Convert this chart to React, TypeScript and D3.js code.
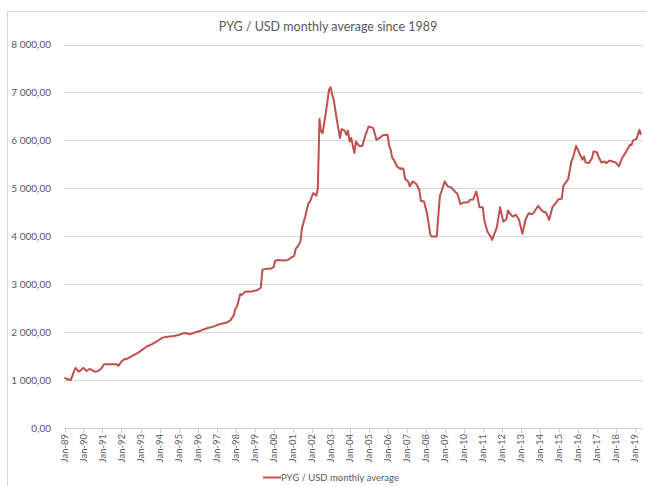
import React, { useEffect, useRef } from "react";
import * as d3 from "d3";

const months = [
  "1989-01", "1989-03", "1989-05", "1989-07", "1989-08", "1989-10", "1989-11",
  "1990-01", "1990-03", "1990-05", "1990-06", "1990-08", "1990-10", "1990-12",
  "1991-02", "1991-10", "1991-11", "1992-01", "1992-03", "1992-04", "1992-07",
  "1992-11", "1993-02", "1993-05", "1993-08", "1993-11", "1994-03", "1994-06",
  "1994-10", "1995-01", "1995-04", "1995-06", "1995-08", "1995-10", "1996-03",
  "1996-07", "1996-11", "1997-03", "1997-08", "1997-10", "1997-12", "1998-01",
  "1998-02", "1998-04", "1998-05", "1998-07", "1998-11", "1999-03", "1999-05",
  "1999-06", "1999-08", "1999-11", "2000-01", "2000-02", "2000-04", "2000-07",
  "2000-10", "2000-12", "2001-02", "2001-03", "2001-05", "2001-06", "2001-07",
  "2001-09", "2001-11", "2001-12", "2002-02", "2002-04", "2002-05", "2002-06",
  "2002-07", "2002-08", "2002-10", "2002-12", "2003-01", "2003-02", "2003-03",
  "2003-05", "2003-07", "2003-08", "2003-10", "2003-11", "2003-12", "2004-01",
  "2004-02", "2004-04", "2004-05", "2004-07", "2004-09", "2004-11", "2005-01",
  "2005-03", "2005-04", "2005-06", "2005-08", "2005-10", "2005-12", "2006-01",
  "2006-02", "2006-03", "2006-04", "2006-05", "2006-07", "2006-09", "2006-10",
  "2006-11", "2006-12", "2007-02", "2007-03", "2007-05", "2007-07", "2007-09",
  "2007-10", "2007-12", "2008-02", "2008-04", "2008-05", "2008-08", "2008-10",
  "2008-11", "2009-01", "2009-03", "2009-05", "2009-07", "2009-09", "2009-11",
  "2010-01", "2010-04", "2010-05", "2010-07", "2010-09", "2010-11", "2011-01",
  "2011-02", "2011-04", "2011-06", "2011-07", "2011-10", "2011-12", "2012-02",
  "2012-04", "2012-05", "2012-07", "2012-08", "2012-10", "2012-12", "2013-02",
  "2013-04", "2013-06", "2013-08", "2013-09", "2013-12", "2014-03", "2014-05",
  "2014-07", "2014-09", "2014-11", "2015-01", "2015-03", "2015-04", "2015-06",
  "2015-07", "2015-09", "2015-10", "2015-12", "2016-02", "2016-04", "2016-05",
  "2016-06", "2016-08", "2016-10", "2016-11", "2017-01", "2017-02", "2017-04",
  "2017-06", "2017-07", "2017-09", "2017-11", "2018-01", "2018-03", "2018-05",
  "2018-06", "2018-08", "2018-10", "2018-11", "2018-12", "2019-02", "2019-03",
  "2019-04", "2019-05",
];

const rates = [
  1050, 1015, 1000, 1175, 1255, 1175, 1195,
  1255, 1190, 1235, 1215, 1175, 1185, 1230,
  1330, 1330, 1295, 1385, 1440, 1435, 1490,
  1560, 1630, 1700, 1745, 1800, 1885, 1905,
  1920, 1940, 1975, 1975, 1955, 1975, 2030,
  2080, 2115, 2165, 2205, 2255, 2360, 2500,
  2545, 2795, 2775, 2840, 2845, 2880, 2930,
  3300, 3320, 3320, 3355, 3490, 3505, 3495,
  3505, 3555, 3590, 3735, 3820, 3900, 4180,
  4410, 4690, 4725, 4900, 4845, 5000, 6445,
  6190, 6150, 6570, 7055, 7105, 6950, 6850,
  6430, 6050, 6235, 6205, 6115, 6200, 5975,
  6050, 5735, 5975, 5885, 5885, 6115, 6290,
  6270, 6255, 6010, 6050, 6105, 6115, 6110,
  5875, 5800, 5630, 5595, 5455, 5405, 5420,
  5400, 5200, 5140, 5040, 5145, 5095, 4970,
  4740, 4725, 4450, 4030, 3995, 3995, 4845,
  4935, 5145, 5040, 5025, 4950, 4885, 4670,
  4705, 4710, 4760, 4765, 4935, 4605, 4605,
  4340, 4100, 3995, 3925, 4190, 4605, 4305,
  4355, 4535, 4445, 4410, 4450, 4340, 4050,
  4340, 4480, 4460, 4480, 4635, 4515, 4495,
  4340, 4605, 4690, 4775, 4780, 5050, 5145,
  5190, 5560, 5630, 5885, 5735, 5595, 5665,
  5540, 5525, 5630, 5770, 5755, 5665, 5540,
  5560, 5525, 5580, 5560, 5540, 5455, 5630,
  5680, 5790, 5910, 5905, 6000, 6025, 6115,
  6220, 6115,
];

const yTicks = [0, 1000, 2000, 3000, 4000, 5000, 6000, 7000, 8000];
const title = "PYG / USD monthly average since 1989";
const seriesName = "PYG / USD monthly average";

const W = 647;
const H = 486;
const font = "Lato, 'Open Sans', sans-serif";
const textColor = "#595959";
const lineColor = "#c0504d";

const App = () => {
  const ref = useRef<SVGSVGElement>(null);

  useEffect(() => {
    const svg = d3.select(ref.current);
    svg.selectAll("*").remove();

    const parse = d3.timeParse("%Y-%m");
    const data = months.map((m, i) => ({ date: parse(m) as Date, value: rates[i] }));

    const x = d3
      .scaleTime()
      .domain([parse("1989-01") as Date, parse("2019-05") as Date])
      .range([64.5, 641]);

    const y = d3.scaleLinear().domain([0, 8000]).range([428, 44.5]);

    // chart frame
    svg
      .append("rect")
      .attr("x", 7.5)
      .attr("y", 11.5)
      .attr("width", W)
      .attr("height", H)
      .attr("fill", "white")
      .attr("stroke", "#d9d9d9");

    svg
      .append("text")
      .attr("x", 328)
      .attr("y", 31)
      .attr("text-anchor", "middle")
      .attr("font-family", font)
      .attr("font-size", 12.5)
      .attr("fill", textColor)
      .text(title);

    // gridlines + y labels
    const fmt = d3
      .formatLocale({ decimal: ",", thousands: " ", grouping: [3], currency: ["", ""] })
      .format(",.2f");

    const yAxis = svg.append("g");
    yTicks.forEach((t) => {
      if (t > 0) {
        yAxis
          .append("line")
          .attr("x1", 64)
          .attr("x2", 643)
          .attr("y1", Math.round(y(t)) + 0.5)
          .attr("y2", Math.round(y(t)) + 0.5)
          .attr("stroke", "#d9d9d9");
      }
      yAxis
        .append("text")
        .attr("x", 51)
        .attr("y", y(t) + 3.5)
        .attr("text-anchor", "end")
        .attr("font-family", font)
        .attr("font-size", 10)
        .attr("fill", textColor)
        .text(fmt(t));
    });

    //xaxis
    const years = d3.timeYear.range(parse("1989-01") as Date, parse("2019-06") as Date);
    const xAxis = svg.append("g");
    xAxis
      .append("line")
      .attr("x1", 64)
      .attr("x2", 643)
      .attr("y1", 428.5)
      .attr("y2", 428.5)
      .attr("stroke", "#d0d0d0");
    years.forEach((d) => {
      const px = Math.round(x(d)) + 0.5;
      xAxis
        .append("line")
        .attr("x1", px)
        .attr("x2", px)
        .attr("y1", 428.5)
        .attr("y2", 433)
        .attr("stroke", "#d0d0d0");
      xAxis
        .append("text")
        .attr("transform", `translate(${x(d) + 3.5}, 434) rotate(-90)`)
        .attr("text-anchor", "end")
        .attr("font-family", font)
        .attr("font-size", 9.5)
        .attr("fill", textColor)
        .text(d3.timeFormat("%b-%y")(d));
    });

    svg
      .append("path")
      .datum(data)
      .attr("fill", "none")
      .attr("stroke", lineColor)
      .attr("stroke-width", 2)
      .attr("stroke-linejoin", "round")
      .attr(
        "d",
        d3
          .line<{ date: Date; value: number }>()
          .x((d) => x(d.date))
          .y((d) => y(d.value))
      );

    // legend
    svg
      .append("line")
      .attr("x1", 263)
      .attr("x2", 281)
      .attr("y1", 477.5)
      .attr("y2", 477.5)
      .attr("stroke", lineColor)
      .attr("stroke-width", 2);
    svg
      .append("text")
      .attr("x", 281)
      .attr("y", 481)
      .attr("font-family", font)
      .attr("font-size", 9.5)
      .attr("fill", textColor)
      .text(seriesName);
  }, []);

  return (
    <svg
      ref={ref}
      width={W}
      height={H}
      style={{ position: "absolute", left: 0, top: 0, background: "white" }}
    />
  );
};

export default App;
